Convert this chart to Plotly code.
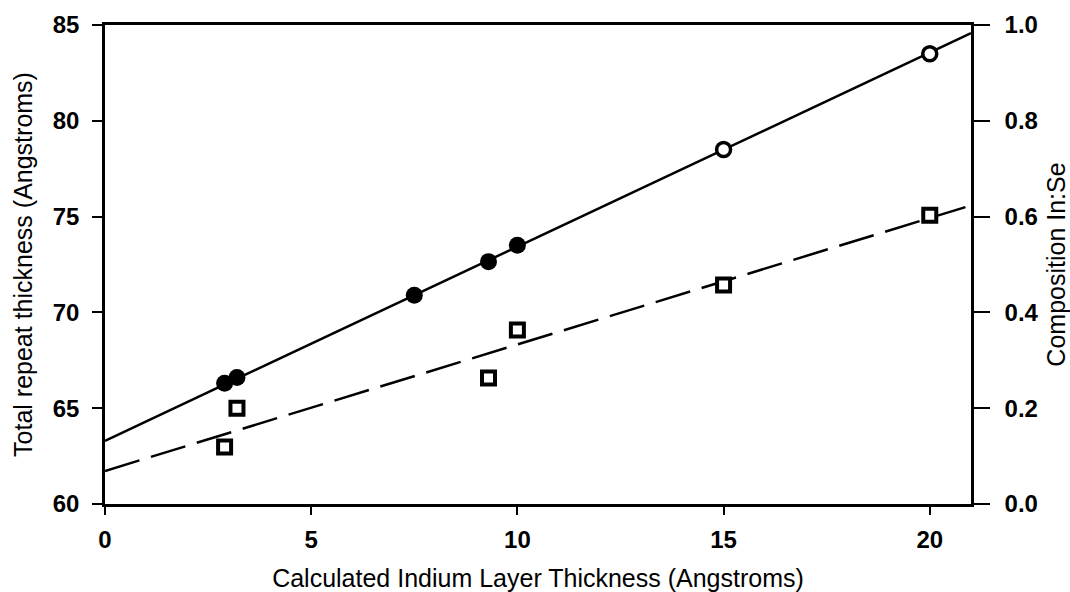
import plotly.graph_objects as go

# ---- data ----
thickness_filled = [2.9, 3.2, 7.5, 9.3, 10.0]
repeat_filled = [66.3, 66.6, 70.9, 72.65, 73.5]

thickness_open = [15.0, 20.0]
repeat_open = [78.5, 83.5]

thickness_comp = [2.9, 3.2, 9.3, 10.0, 15.0, 20.0]
composition = [0.119, 0.200, 0.263, 0.363, 0.457, 0.603]

fit_x = [0.0, 21.0]
repeat_fit_intercept = 63.3
repeat_fit_slope = 1.013
comp_fit_intercept = 0.069
comp_fit_slope = 0.0264

x_ticks = [0, 5, 10, 15, 20]
y_ticks = [60, 65, 70, 75, 80, 85]
y2_ticks = [0.0, 0.2, 0.4, 0.6, 0.8, 1.0]

repeat_fit = [repeat_fit_intercept + repeat_fit_slope * x for x in fit_x]
comp_fit = [comp_fit_intercept + comp_fit_slope * x for x in fit_x]

FONT = "Liberation Sans, Arial, sans-serif"

fig = go.Figure()

fig.add_trace(go.Scatter(x=fit_x, y=repeat_fit, mode="lines",
                         line=dict(color="black", width=2.5), showlegend=False))
fig.add_trace(go.Scatter(x=fit_x, y=comp_fit, mode="lines", yaxis="y2",
                         line=dict(color="black", width=2.5, dash="36px,12px"),
                         showlegend=False))
fig.add_trace(go.Scatter(x=thickness_filled, y=repeat_filled, mode="markers",
                         marker=dict(symbol="circle", size=17, color="black",
                                     line=dict(color="black", width=0)),
                         showlegend=False))
fig.add_trace(go.Scatter(x=thickness_open, y=repeat_open, mode="markers",
                         marker=dict(symbol="circle", size=14, color="white",
                                     line=dict(color="black", width=3.5)),
                         showlegend=False))
fig.add_trace(go.Scatter(x=thickness_comp, y=composition, mode="markers",
                         yaxis="y2",
                         marker=dict(symbol="square", size=13, color="white",
                                     line=dict(color="black", width=4)),
                         showlegend=False))

tickfont = dict(family=FONT, size=24, color="black", weight="bold")
titlefont = dict(family=FONT, size=25, color="black")

fig.update_layout(
    width=1070, height=592,
    margin=dict(l=105, r=99, t=25, b=88),
    paper_bgcolor="white", plot_bgcolor="white",
    xaxis=dict(range=[0, 21], tickvals=x_ticks, ticks="outside", ticklen=8,
               tickwidth=2, tickcolor="black", showline=True, linewidth=2.5,
               linecolor="black", mirror=True, showgrid=False, zeroline=False,
               tickfont=tickfont, ticklabelstandoff=4, automargin=False,
               title=dict(text="Calculated Indium Layer Thickness (Angstroms)",
                          font=titlefont, standoff=20)),
    yaxis=dict(range=[60, 85], tickvals=y_ticks, ticks="outside", ticklen=10,
               tickwidth=2, tickcolor="black", showline=True, linewidth=2.5,
               linecolor="black", showgrid=False, zeroline=False,
               tickfont=tickfont, ticklabelstandoff=8, automargin=False,
               title=dict(text="Total repeat thickness (Angstroms)",
                          font=titlefont, standoff=13)),
    yaxis2=dict(range=[0, 1.0], tickvals=y2_ticks, tickformat=".1f",
                overlaying="y", side="right", ticks="outside", ticklen=16,
                tickwidth=2, tickcolor="black", showline=True, linewidth=2.5,
                linecolor="black", showgrid=False, zeroline=False,
                tickfont=tickfont, ticklabelstandoff=10, automargin=False,
                title=dict(text="Composition In:Se", font=titlefont,
                           standoff=15)),
)

fig.write_html("out.html")
